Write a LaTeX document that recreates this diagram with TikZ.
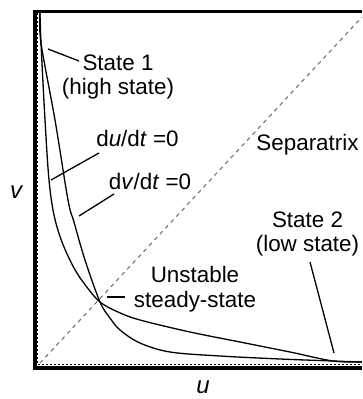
\documentclass[tikz,border=0pt]{standalone}
\usepackage{fontspec}
\setmainfont{Liberation Sans}
\begin{document}
\begin{tikzpicture}[x=1pt,y=-1pt,
  lbl/.style={anchor=base,inner sep=0pt,font=\fontsize{22.4}{26}\selectfont},
  axlbl/.style={anchor=base,inner sep=0pt,font=\fontsize{24}{28}\selectfont\itshape},
  curve/.style={line width=1.3pt,black},
  leader/.style={line width=1.3pt,black},
  axisline/.style={line width=3.6pt,black,line join=miter},
  axisdash/.style={line width=1.4pt,black,dash pattern=on 2pt off 2pt},
  sepline/.style={line width=1.1pt,black!55,dash pattern=on 4pt off 4pt}]
\useasboundingbox (0,0) rectangle (362,399);
% axes frame
\draw[axisline] (362,11.3) -- (34.8,11.3) -- (34.8,368) -- (362,368);
\draw[axisdash] (37.6,13) -- (37.6,364.6) -- (362,364.6);
% separatrix
\coordinate (sepS) at (40,363);
\coordinate (sepE) at (362,17);
\draw[sepline] (sepS) -- (sepE);
% nullclines
\draw[curve] plot[smooth,tension=0.55] coordinates {(40,13) (41,43) (45,120) (49,180) (54,215) (62,242) (74,268) (86,286) (100,302) (118,312) (140,320) (190,332) (240,342) (290,352) (333,361) (362,362)};
\draw[curve] plot[smooth,tension=0.55] coordinates {(40,13) (41,43) (55,120) (68,200) (74,222) (85,260) (100,302) (110,318) (120,330) (140,343) (170,352) (220,356) (280,359) (333,361) (362,362)};
% labels
\node[lbl] (s1a) at (118,70) {State 1};
\node[lbl] (s1b) at (118,94) {(high state)};
\node[lbl] (dudt) at (137.5,146) {d\textit{u}/d\textit{t} =0};
\node[lbl] (dvdt) at (150,189) {d\textit{v}/d\textit{t} =0};
\node[lbl] (sepx) at (307.5,150) {Separatrix};
\node[lbl] (uns1) at (195,282) {Unstable};
\node[lbl] (uns2) at (195,307) {steady-state};
\node[lbl] (s2a) at (307.5,227) {State 2};
\node[lbl] (s2b) at (307.5,251) {(low state)};
\node[axlbl] (vlab) at (16,198) {v};
\node[axlbl] (ulab) at (203,393) {u};
% leaders
\coordinate (l1a) at (79,61);   \coordinate (l1b) at (48,49);
\coordinate (l2a) at (99,153);  \coordinate (l2b) at (51,180);
\coordinate (l3a) at (114,194); \coordinate (l3b) at (79,216);
\coordinate (l4a) at (125,297); \coordinate (l4b) at (107,297);
\coordinate (l5a) at (310,262); \coordinate (l5b) at (334,353);
\draw[leader] (l1a) -- (l1b);
\draw[leader] (l2a) -- (l2b);
\draw[leader] (l3a) -- (l3b);
\draw[leader] (l4a) -- (l4b);
\draw[leader] (l5a) -- (l5b);
\end{tikzpicture}
\end{document}
